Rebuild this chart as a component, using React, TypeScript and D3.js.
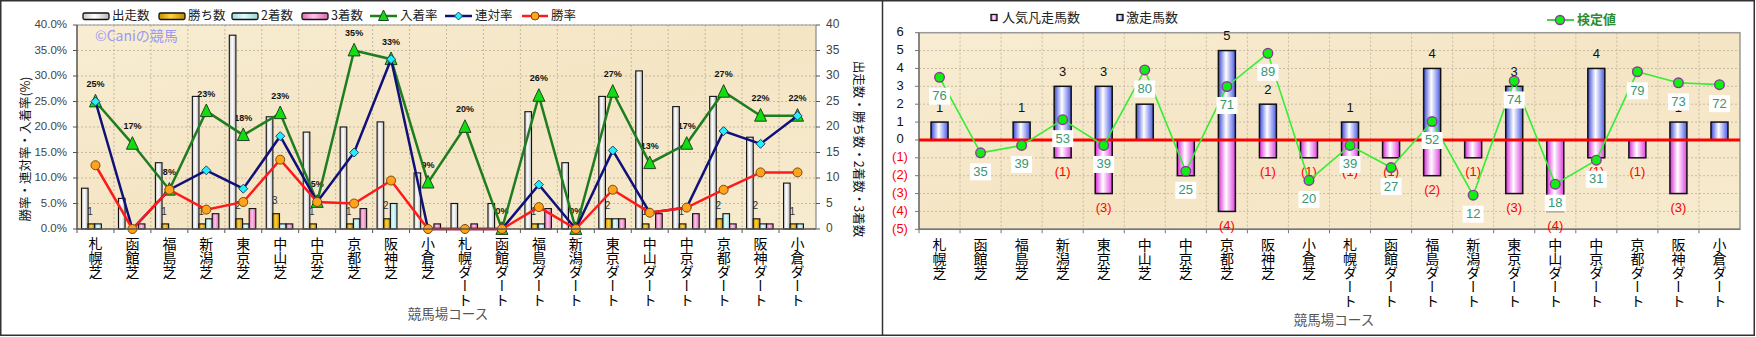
import React from 'react';
import * as d3 from 'd3';

// ---------- data ----------
const courses = ['札幌芝','函館芝','福島芝','新潟芝','東京芝','中山芝','中京芝','京都芝','阪神芝','小倉芝','札幌ダート','函館ダート','福島ダート','新潟ダート','東京ダート','中山ダート','中京ダート','京都ダート','阪神ダート','小倉ダート'];
const starts = [8,6,13,26,38,22,19,20,21,11,5,5,23,13,26,31,24,26,18,9];
const wins = [1,0,1,1,2,3,1,1,2,0,0,0,1,0,2,1,1,2,2,1];
const seconds = [1,0,0,2,1,1,0,2,5,0,0,0,1,0,2,0,0,3,1,1];
const thirds = [0,1,0,3,4,1,0,4,0,1,1,0,4,0,2,3,3,1,1,0];
const placeRate = [25,16.7,7.7,23.1,18.4,22.7,5.3,35,33.3,9.1,20,0,26.1,0,26.9,12.9,16.7,26.9,22.2,22.2];
const quinellaRate = [25,0,7.7,11.5,7.9,18.2,5.3,15,33.3,0,0,0,8.7,0,15.4,3.2,4.2,19.2,16.7,22.2];
const winRate = [12.5,0,7.7,3.8,5.3,13.6,5.3,5,9.5,0,0,0,4.3,0,7.7,3.2,4.2,7.7,11.1,11.1];
const leftTicks = [0,5,10,15,20,25,30,35,40];
const barSeries = ['出走数','勝ち数','2着数','3着数'];

const gekisou = [1,0,1,3,3,2,0,5,2,0,1,0,4,0,3,0,4,0,1,1];
const bonsou = [0,0,0,1,3,0,2,4,1,1,1,1,2,1,3,4,1,1,3,0];
const kentei = [76,35,39,53,39,80,25,71,89,20,39,27,52,12,74,18,31,79,73,72];
const rightTicks = [-5,-4,-3,-2,-1,0,1,2,3,4,5,6];

const JP = "'Noto Sans CJK JP', 'Noto Sans', sans-serif";
const NUM = "'Liberation Sans', Arial, 'Noto Sans CJK JP', sans-serif";

// ---------- layout ----------
const L = { x0: 77, x1: 816, y0: 25, y1: 229 };
const R = { x0: 919, x1: 1740, y0: 32.7, y1: 229.3 };

const xL = d3.scaleBand<string>().domain(courses).range([L.x0, L.x1]);
const yPct = d3.scaleLinear().domain([0, 40]).range([L.y1, L.y0]);
const yCnt = d3.scaleLinear().domain([0, 40]).range([L.y1, L.y0]);
const sub = d3.scaleBand<string>().domain(barSeries).range([4.5, 31]);

const xR = d3.scaleBand<string>().domain(courses).range([R.x0, R.x1]);
const yR = d3.scaleLinear().domain([-5, 6]).range([R.y1, R.y0]);
const yK = d3.scaleLinear().domain([-6.5, 100.2]).range([R.y1, R.y0]);

const barFills = ['url(#gWhite)', 'url(#gYellow)', 'url(#gCyan)', 'url(#gPink)'];
const barData = [starts, wins, seconds, thirds];

function tri(cx: number, cy: number, s: number) {
  return `M${cx},${cy - s * 0.6} L${cx + s / 2},${cy + s * 0.45} L${cx - s / 2},${cy + s * 0.45} Z`;
}
function dia(cx: number, cy: number, s: number) {
  return `M${cx},${cy - s / 2} L${cx + s / 2},${cy} L${cx},${cy + s / 2} L${cx - s / 2},${cy} Z`;
}

export default function App() {
  const cxL = (i: number) => (xL(courses[i]) as number) + xL.bandwidth() / 2;
  const cxR = (i: number) => (xR(courses[i]) as number) + xR.bandwidth() / 2;
  const lineL = (vals: number[]) =>
    d3.line<number>().x((_, i) => cxL(i)).y((d) => yPct(d))(vals) as string;
  const lineK = d3.line<number>().x((_, i) => cxR(i)).y((d) => yK(d))(kentei) as string;
  const bw = 17;

  return (
    <svg width={1756} height={337} style={{ position: 'absolute', left: 0, top: 0, background: '#fff' }}>
      <defs>
        <linearGradient id="bg" x1="0" y1="0" x2="1" y2="1">
          <stop offset="0" stopColor="#f8edd3" />
          <stop offset="0.5" stopColor="#f4e5c4" />
          <stop offset="1" stopColor="#f7ebcf" />
        </linearGradient>
        <linearGradient id="gWhite" x1="0" x2="1" y1="0" y2="0">
          <stop offset="0" stopColor="#c8c8c8" />
          <stop offset="0.45" stopColor="#ffffff" />
          <stop offset="1" stopColor="#b8b8b8" />
        </linearGradient>
        <linearGradient id="gYellow" x1="0" x2="1" y1="0" y2="0">
          <stop offset="0" stopColor="#c89000" />
          <stop offset="0.45" stopColor="#ffd23a" />
          <stop offset="1" stopColor="#c08800" />
        </linearGradient>
        <linearGradient id="gCyan" x1="0" x2="1" y1="0" y2="0">
          <stop offset="0" stopColor="#9edcdc" />
          <stop offset="0.45" stopColor="#dffcfc" />
          <stop offset="1" stopColor="#98d8d8" />
        </linearGradient>
        <linearGradient id="gPink" x1="0" x2="1" y1="0" y2="0">
          <stop offset="0" stopColor="#e070b8" />
          <stop offset="0.45" stopColor="#ffc4e4" />
          <stop offset="1" stopColor="#d868b0" />
        </linearGradient>
        <linearGradient id="gBlue" x1="0" x2="1" y1="0" y2="0">
          <stop offset="0" stopColor="#3a4ad8" />
          <stop offset="0.45" stopColor="#ffffff" />
          <stop offset="1" stopColor="#4a5ae6" />
        </linearGradient>
        <linearGradient id="gMag" x1="0" x2="1" y1="0" y2="0">
          <stop offset="0" stopColor="#d82ad8" />
          <stop offset="0.45" stopColor="#ffffff" />
          <stop offset="1" stopColor="#e040e0" />
        </linearGradient>
      </defs>

      {/* frame */}
      <rect x={0.75} y={0.75} width={1753.5} height={334.5} fill="none" stroke="#333" strokeWidth={1.5} />
      <line x1={882.5} x2={882.5} y1={0} y2={336} stroke="#333" strokeWidth={1.5} />

      {/* ================= LEFT CHART ================= */}
      <rect x={L.x0} y={L.y0} width={L.x1 - L.x0} height={L.y1 - L.y0} fill="url(#bg)" />
      {leftTicks.map((t) => (
        <line key={'hg' + t} x1={L.x0} x2={L.x1} y1={yPct(t)} y2={yPct(t)} stroke="#b9ae94" strokeWidth={0.8} strokeDasharray="2,2" />
      ))}
      {courses.slice(1).map((c) => (
        <line key={'vg' + c} x1={xL(c)} x2={xL(c)} y1={L.y0} y2={L.y1} stroke="#b9ae94" strokeWidth={0.8} strokeDasharray="2,2" />
      ))}
      <line x1={L.x0} x2={L.x1} y1={L.y0} y2={L.y0} stroke="#999" strokeWidth={1.2} />
      <line x1={L.x1} x2={L.x1} y1={L.y0} y2={L.y1} stroke="#888" strokeWidth={1.2} />

      <text x={95} y={37} fontFamily={JP} fontSize={14} fill="#9a9af0" dominantBaseline="middle">©Caniの競馬</text>

      {/* rate labels (behind bars) */}
      {placeRate.map((v, i) => (
        <text key={'pl' + i} x={cxL(i)} y={yPct(v) - 17} fontFamily={NUM} fontSize={9} fontWeight="bold" fill="#111" textAnchor="middle" dominantBaseline="middle">
          {Math.round(v)}%
        </text>
      ))}
      {wins.map((v, i) => v > 0 ? (
        <text key={'wl' + i} x={(xL(courses[i]) as number) + (sub('勝ち数') as number) + 2} y={yCnt(v) - 12} fontFamily={NUM} fontSize={10} fill="#333" textAnchor="middle" dominantBaseline="middle">
          {v}
        </text>
      ) : null)}

      {/* bars */}
      {barData.map((arr, s) =>
        arr.map((v, i) => v > 0 ? (
          <rect key={'b' + s + '-' + i} x={(xL(courses[i]) as number) + (sub(barSeries[s]) as number)} y={yCnt(v)} width={sub.bandwidth()} height={yCnt(0) - yCnt(v)} fill={barFills[s]} stroke="#111" strokeWidth={1.1} />
        ) : null)
      )}

      {/* lines */}
      <path d={lineL(placeRate)} fill="none" stroke="#1f7d1f" strokeWidth={2.5} />
      {placeRate.map((v, i) => (
        <path key={'tr' + i} d={tri(cxL(i), yPct(v), 12)} fill="#11dd11" stroke="#224422" strokeWidth={1} />
      ))}
      <path d={lineL(quinellaRate)} fill="none" stroke="#10107a" strokeWidth={2.5} />
      {quinellaRate.map((v, i) => (
        <path key={'di' + i} d={dia(cxL(i), yPct(v), 9)} fill="#22eeff" stroke="#224466" strokeWidth={1} />
      ))}
      <path d={lineL(winRate)} fill="none" stroke="#ff1a1a" strokeWidth={2.5} />
      {winRate.map((v, i) => (
        <circle key={'ci' + i} cx={cxL(i)} cy={yPct(v)} r={4.5} fill="#ffa31a" stroke="#7a4a10" strokeWidth={1} />
      ))}

      {/* axes */}
      <line x1={L.x0} x2={L.x0} y1={L.y0} y2={L.y1} stroke="#555" strokeWidth={1.5} />
      <line x1={L.x0} x2={L.x1} y1={L.y1} y2={L.y1} stroke="#555" strokeWidth={1.5} />
      {leftTicks.map((t) => (
        <g key={'lt' + t}>
          <line x1={L.x0 - 4} x2={L.x0} y1={yPct(t)} y2={yPct(t)} stroke="#555" />
          <line x1={L.x1} x2={L.x1 + 4} y1={yCnt(t)} y2={yCnt(t)} stroke="#555" />
          <text x={67} y={yPct(t)} fontFamily={NUM} fontSize={11.5} fill="#444" textAnchor="end" dominantBaseline="middle">
            {d3.format('.1%')(t / 100)}
          </text>
          <text x={826} y={yCnt(t)} fontFamily={NUM} fontSize={12} fill="#444" dominantBaseline="middle">{t}</text>
        </g>
      ))}
      {courses.map((c) => (
        <line key={'xt' + c} x1={xL(c)} x2={xL(c)} y1={L.y1} y2={L.y1 + 4} stroke="#555" />
      ))}
      {courses.map((c, i) => (
        <text key={'xl' + c} x={cxL(i)} y={237} fontFamily={JP} fontSize={14} fill="#000" style={{ writingMode: 'vertical-rl' } as any}>
          {c}
        </text>
      ))}
      <text x={448} y={315} fontFamily={JP} fontSize={13.5} fill="#555" textAnchor="middle" dominantBaseline="middle">競馬場コース</text>
      <text transform="translate(27,149) rotate(-90)" fontFamily={JP} fontSize={12.5} fill="#111" textAnchor="middle" dominantBaseline="middle">勝率・連対率・入着率(%)</text>
      <text transform="translate(857,149) rotate(90)" fontFamily={JP} fontSize={12.5} fill="#111" textAnchor="middle" dominantBaseline="middle">出走数・勝ち数・2着数・3着数</text>

      {/* left legend */}
      {[
        { x: 83, t: '出走数', f: 'url(#gWhite)' },
        { x: 159, t: '勝ち数', f: 'url(#gYellow)' },
        { x: 232, t: '2着数', f: 'url(#gCyan)' },
        { x: 302, t: '3着数', f: 'url(#gPink)' },
      ].map((d) => (
        <g key={'lg' + d.t}>
          <rect x={d.x} y={13} width={26} height={6.5} rx={1.5} fill={d.f} stroke="#111" strokeWidth={1.3} />
          <text x={d.x + 29} y={16.5} fontFamily={JP} fontSize={12.5} fill="#222" dominantBaseline="middle">{d.t}</text>
        </g>
      ))}
      <line x1={370} x2={397} y1={16} y2={16} stroke="#1f7d1f" strokeWidth={2.5} />
      <path d={tri(383.5, 16, 10)} fill="#11dd11" stroke="#224422" strokeWidth={1} />
      <text x={400} y={16.5} fontFamily={JP} fontSize={12.5} fill="#222" dominantBaseline="middle">入着率</text>
      <line x1={445} x2={472} y1={16} y2={16} stroke="#10107a" strokeWidth={2.5} />
      <path d={dia(458.5, 16, 8)} fill="#22eeff" stroke="#224466" strokeWidth={1} />
      <text x={475} y={16.5} fontFamily={JP} fontSize={12.5} fill="#222" dominantBaseline="middle">連対率</text>
      <line x1={522} x2={548} y1={16} y2={16} stroke="#ff1a1a" strokeWidth={2.5} />
      <circle cx={535} cy={16} r={4} fill="#ffa31a" stroke="#7a4a10" strokeWidth={1} />
      <text x={551} y={16.5} fontFamily={JP} fontSize={12.5} fill="#222" dominantBaseline="middle">勝率</text>

      {/* ================= RIGHT CHART ================= */}
      <rect x={R.x0} y={R.y0} width={R.x1 - R.x0} height={R.y1 - R.y0} fill="url(#bg)" />
      {rightTicks.map((t) => (
        <line key={'rhg' + t} x1={R.x0} x2={R.x1} y1={yR(t)} y2={yR(t)} stroke="#bdb39a" strokeWidth={0.8} strokeDasharray="2,2" />
      ))}
      {courses.slice(1).map((c) => (
        <line key={'rvg' + c} x1={xR(c)} x2={xR(c)} y1={R.y0} y2={R.y1} stroke="#bdb39a" strokeWidth={0.8} strokeDasharray="2,2" />
      ))}
      <rect x={R.x0} y={R.y0} width={R.x1 - R.x0} height={R.y1 - R.y0} fill="none" stroke="#999" strokeWidth={1.5} />
      <line x1={R.x0} x2={R.x0} y1={R.y0} y2={R.y1} stroke="#777" strokeWidth={1.5} />
      <line x1={R.x0} x2={R.x1} y1={R.y1} y2={R.y1} stroke="#777" strokeWidth={1.5} />
      {rightTicks.map((t) => (
        <g key={'rt' + t}>
          <line x1={R.x0 - 4} x2={R.x0} y1={yR(t)} y2={yR(t)} stroke="#777" />
          <text x={900} y={yR(t)} fontFamily={NUM} fontSize={13} fill={t < 0 ? '#ff0000' : '#111'} textAnchor="middle" dominantBaseline="middle">
            {t < 0 ? `(${-t})` : `${t}`}
          </text>
        </g>
      ))}
      {courses.map((c) => (
        <line key={'rxt' + c} x1={xR(c)} x2={xR(c)} y1={R.y1} y2={R.y1 + 4} stroke="#777" />
      ))}

      {/* count labels */}
      {gekisou.map((v, i) => v > 0 ? (
        <text key={'gl' + i} x={cxR(i)} y={yR(v) - 14} fontFamily={NUM} fontSize={13} fill="#111" textAnchor="middle" dominantBaseline="middle">{v}</text>
      ) : null)}
      {bonsou.map((v, i) => v > 0 ? (
        <text key={'bl' + i} x={cxR(i)} y={yR(-v) + 15} fontFamily={NUM} fontSize={13} fill="#ff0000" textAnchor="middle" dominantBaseline="middle">{`(${v})`}</text>
      ) : null)}

      {/* bars */}
      {gekisou.map((v, i) => v > 0 ? (
        <rect key={'gb' + i} x={cxR(i) - bw / 2} y={yR(v)} width={bw} height={yR(0) - yR(v)} fill="url(#gBlue)" stroke="#111" strokeWidth={1.5} />
      ) : null)}
      {bonsou.map((v, i) => v > 0 ? (
        <rect key={'bb' + i} x={cxR(i) - bw / 2} y={yR(0)} width={bw} height={yR(-v) - yR(0)} fill="url(#gMag)" stroke="#111" strokeWidth={1.5} />
      ) : null)}

      <line x1={R.x0} x2={R.x1} y1={yR(0)} y2={yR(0)} stroke="#ff0000" strokeWidth={3} />

      {/* kentei line */}
      <path d={lineK} fill="none" stroke="#33ee33" strokeWidth={1.6} />
      {kentei.map((v, i) => (
        <circle key={'kc' + i} cx={cxR(i)} cy={yK(v)} r={4.8} fill="#11ee11" stroke="#8a3a9a" strokeWidth={1.4} />
      ))}
      {kentei.map((v, i) => (
        <g key={'kl' + i}>
          <rect x={cxR(i) - 10.5} y={yK(v) + 19 - 8.5} width={21} height={17} fill="#ffffff" />
          <text x={cxR(i)} y={yK(v) + 19.5} fontFamily={NUM} fontSize={13} fill="#3a9670" textAnchor="middle" dominantBaseline="middle">{v}</text>
        </g>
      ))}

      {courses.map((c, i) => (
        <text key={'rxl' + c} x={cxR(i)} y={238} fontFamily={JP} fontSize={14} fill="#000" style={{ writingMode: 'vertical-rl' } as any}>
          {c}
        </text>
      ))}
      <text x={1334} y={321} fontFamily={JP} fontSize={13.5} fill="#555" textAnchor="middle" dominantBaseline="middle">競馬場コース</text>

      {/* right legend */}
      <rect x={991} y={14.5} width={6} height={6} fill="url(#gMag)" stroke="#111" strokeWidth={1.3} />
      <text x={1002} y={18} fontFamily={JP} fontSize={13} fill="#222" dominantBaseline="middle">人気凡走馬数</text>
      <rect x={1117} y={14.5} width={6} height={6} fill="url(#gBlue)" stroke="#111" strokeWidth={1.3} />
      <text x={1126} y={18} fontFamily={JP} fontSize={13} fill="#222" dominantBaseline="middle">激走馬数</text>
      <line x1={1547} x2={1574} y1={20} y2={20} stroke="#33cc33" strokeWidth={1.8} />
      <circle cx={1560} cy={20} r={4.5} fill="#11ee11" stroke="#8a3a9a" strokeWidth={1.4} />
      <text x={1577} y={20} fontFamily={JP} fontSize={13} fontWeight="bold" fill="#2e8b2e" dominantBaseline="middle">検定値</text>
    </svg>
  );
}
